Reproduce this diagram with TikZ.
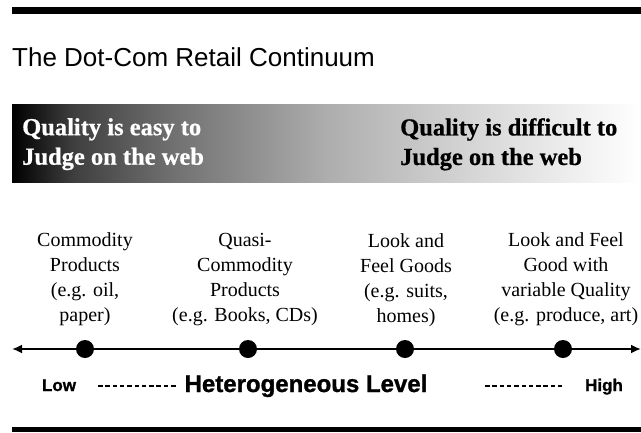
\documentclass[tikz,border=0pt]{standalone}
\usepackage{fontspec}
\setmainfont{Liberation Serif}[BoldFont={Liberation Serif Bold}]
\newfontfamily\hsans{Liberation Sans}[BoldFont={Liberation Sans Bold}]
\newfontfamily\hsansheavy{Liberation Sans Bold}[FakeBold=1.2]
\newfontfamily\serifheavy{Liberation Serif Bold}[FakeBold=0.6]
\usetikzlibrary{arrows.meta}
\pgfdeclarehorizontalshading{qgrad}{100bp}{color(0bp)=(black); color(25bp)=(black); color(30bp)=(black!75); color(37.5bp)=(black!56.5); color(50bp)=(black!32); color(62.5bp)=(black!15); color(75bp)=(white); color(100bp)=(white)}
\begin{document}
\begin{tikzpicture}[x=1pt,y=-1pt,
  item/.style={anchor=north, inner sep=0pt, align=center, font=\fontsize{20}{25}\selectfont},
  qual/.style={anchor=north west, inner sep=0pt, align=left, font=\serifheavy\fontsize{24.5}{29.5}\selectfont},
  scalelbl/.style={anchor=base, inner sep=0pt, font=\hsansheavy\fontsize{17}{20}\selectfont},
  dot/.style={circle, fill=black, minimum size=18pt, inner sep=0pt},
  dashline/.style={line width=2pt, dash pattern=on 4.5pt off 2.8pt},
  rule/.style={fill=black}]
\useasboundingbox (0,0) rectangle (641,432);
% rules
\fill[rule] (12,7) rectangle (641,13.5);
\fill[rule] (12,427) rectangle (641,432);
% title
\node[anchor=base west, inner sep=0pt, font=\hsans\fontsize{26}{30}\selectfont] (title) at (12,66) {The Dot-Com Retail Continuum};
% gradient band
\shade[shading=qgrad] (12,104) rectangle (641,182);
\node[qual, text=white] (easy) at (22,118) {Quality is easy to\\Judge on the web};
\node[qual, text=black] (hard) at (400,118) {Quality is difficult to\\Judge on the web};
% categories
\node[item] (c1) at (85,232) {Commodity\\Products\\(e.g. oil,\\paper)};
\node[item] (c2) at (245,233) {Quasi-\\Commodity\\Products\\(e.g. Books, CDs)};
\node[item] (c3) at (406,233) {Look and\\Feel Goods\\(e.g. suits,\\homes)};
\node[item] (c4) at (566,232) {Look and Feel\\Good with\\variable Quality\\(e.g. produce, art)};
% axis
\coordinate (axL) at (12,349);
\coordinate (axR) at (641,349);
\draw[line width=2.5pt, {Latex[length=10pt,width=9pt]}-{Latex[length=10pt,width=9pt]}] (axL) -- (axR);
\node[dot] (d1) at (85,349) {};
\node[dot] (d2) at (248,349) {};
\node[dot] (d3) at (405,349) {};
\node[dot] (d4) at (563,349) {};
% scale labels
\node[scalelbl] (low) at (59,391) {Low};
\node[scalelbl] (high) at (604,391) {High};
\node[anchor=base, inner sep=0pt, font=\hsansheavy\fontsize{24}{28}\selectfont] (het) at (306,392) {Heterogeneous Level};
\coordinate (l1) at (98,386);
\coordinate (l2) at (178,386);
\coordinate (r1) at (485,386);
\coordinate (r2) at (562,386);
\draw[dashline] (l1) -- (l2);
\draw[dashline] (r1) -- (r2);
\end{tikzpicture}
\end{document}
